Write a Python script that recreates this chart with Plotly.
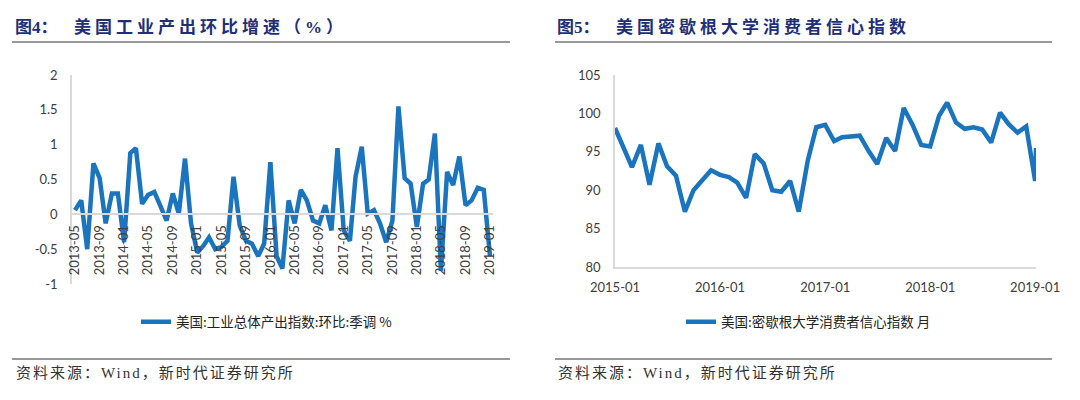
import pandas as pd
import plotly.graph_objects as go

# ---------------- data ----------------
ip_months = pd.date_range("2013-05-01", "2019-01-01", freq="MS")
ip_mom = [0.06, 0.2, -0.5, 0.73, 0.52, -0.13, 0.3, 0.3,
          -0.4, 0.88, 0.95, 0.15, 0.28, 0.32, 0.12, -0.09, 0.3, 0.01, 0.8, -0.13,
          -0.55, -0.45, -0.33, -0.5, -0.47, -0.38, 0.54, -0.16, -0.38, -0.42, -0.6, -0.42,
          0.75, -0.6, -0.78, 0.2, -0.13, 0.35, 0.2, -0.09, -0.13, 0.13, -0.23, 0.95,
          -0.23, -0.38, 0.54, 0.97, 0.01, 0.06, -0.13, -0.4, -0.09, 1.55, 0.52, 0.44,
          -0.18, 0.44, 0.5, 1.16, -0.81, 0.61, 0.42, 0.83, 0.13, 0.2, 0.38, 0.35,
          -0.6]
ip_ticks = ["2013-05", "2013-09", "2014-01", "2014-05", "2014-09", "2015-01", "2015-05",
            "2015-09", "2016-01", "2016-05", "2016-09", "2017-01", "2017-05", "2017-09",
            "2018-01", "2018-05", "2018-09", "2019-01"]
ip_yticks = [2, 1.5, 1, 0.5, 0, -0.5, -1]
ip_ytext = ["2", "1.5", "1", "0.5", "0", "-0.5", "-1"]

cs_dates = list(pd.date_range("2015-01-01", "2019-01-01", freq="MS")) + [pd.Timestamp("2019-01-04")]
cs_index = [98.1, 95.4, 93.0, 95.9, 90.7, 96.1, 93.1, 91.9, 87.2, 90.0, 91.3, 92.6,
            92.0, 91.7, 91.0, 89.0, 94.7, 93.5, 90.0, 89.8, 91.2, 87.2, 93.8, 98.2,
            98.5, 96.4, 96.9, 97.0, 97.1, 95.1, 93.4, 96.8, 95.1, 100.7, 98.5, 95.9,
            95.7, 99.7, 101.4, 98.8, 98.0, 98.2, 97.9, 96.2, 100.1, 98.6, 97.5, 98.3,
            91.2, 95.5]
cs_ticks = ["2015-01", "2016-01", "2017-01", "2018-01", "2019-01"]
cs_yticks = [80, 85, 90, 95, 100, 105]

title_left = ("图4：", "美国工业产出环比增速（%）")
title_right = ("图5：", "美国密歇根大学消费者信心指数")
legend_left = "美国:工业总体产出指数:环比:季调 %"
legend_right = "美国:密歇根大学消费者信心指数 月"
source_text = "资料来源：Wind，新时代证券研究所"

# ---------------- styling ----------------
W, H = 1080, 400
LINE = "#1B74BE"
AXIS = "#D9D9D9"
TICK_FONT = dict(family="Lato, Liberation Sans, sans-serif", size=13, color="#404040")
CJK = "Noto Sans CJK SC"
NAVY = "#202F78"

def px_x(v):
    return v / W

def px_y(v):
    return 1 - v / H

fig = go.Figure()
fig.add_trace(go.Scatter(x=ip_months, y=ip_mom, mode="lines", name=legend_left,
                         line=dict(color=LINE, width=4.5), xaxis="x", yaxis="y",
                         legend="legend"))
fig.add_trace(go.Scatter(x=cs_dates, y=cs_index, mode="lines", name=legend_right,
                         line=dict(color=LINE, width=4.5), xaxis="x2", yaxis="y2",
                         legend="legend2"))

ydom = [px_y(284), px_y(75)]
yr = [-1, 2]
zero_pos = ydom[0] + (0 - yr[0]) / (yr[1] - yr[0]) * (ydom[1] - ydom[0])

fig.update_layout(
    width=W, height=H, margin=dict(l=0, r=0, t=0, b=0, autoexpand=False),
    paper_bgcolor="white", plot_bgcolor="white",
    xaxis=dict(domain=[px_x(72), px_x(493)], type="date",
               range=["2013-04-16", "2019-01-16"], anchor="free", position=zero_pos,
               tickvals=[t + "-01" for t in ip_ticks], ticktext=ip_ticks, tickangle=-90,
               showline=True, linecolor=AXIS, linewidth=1.5, showgrid=False, zeroline=False,
               ticks="", tickfont=TICK_FONT, ticklabelstandoff=5, automargin=False),
    yaxis=dict(domain=ydom, range=yr, anchor="x", tickvals=ip_yticks, ticktext=ip_ytext,
               showline=True, linecolor=AXIS, linewidth=1.5, showgrid=False, zeroline=False,
               ticks="", tickfont=TICK_FONT, ticklabelstandoff=10, automargin=False),
    xaxis2=dict(domain=[px_x(615), px_x(1036)], type="date",
                range=["2015-01-01", "2019-01-04"], anchor="y2",
                tickvals=[t + "-01" for t in cs_ticks], ticktext=cs_ticks, tickangle=0,
                showline=True, linecolor=AXIS, linewidth=1.5, showgrid=False, zeroline=False,
                ticks="", tickfont=TICK_FONT, ticklabelstandoff=8, automargin=False),
    yaxis2=dict(domain=[px_y(267), px_y(75)], range=[80, 105], anchor="x2",
                tickvals=cs_yticks, showline=True, linecolor=AXIS, linewidth=1.5,
                showgrid=False, zeroline=False, ticks="", tickfont=TICK_FONT,
                ticklabelstandoff=10, automargin=False),
    legend=dict(x=px_x(136), y=px_y(322), xanchor="left", yanchor="middle",
                font=dict(family=CJK, size=13.5, color="#222222"),
                bgcolor="rgba(0,0,0,0)", borderwidth=0),
    legend2=dict(x=px_x(681), y=px_y(322), xanchor="left", yanchor="middle",
                 font=dict(family=CJK, size=13.5, color="#222222"),
                 bgcolor="rgba(0,0,0,0)", borderwidth=0),
    showlegend=True,
)

shapes = []
for x0, x1 in [(12, 510), (555, 1052)]:
    for yy in (42, 359):
        shapes.append(dict(type="line", xref="paper", yref="paper",
                           x0=px_x(x0), x1=px_x(x1), y0=px_y(yy), y1=px_y(yy),
                           line=dict(color="#333333", width=1.2)))
fig.update_layout(shapes=shapes)

title_font = dict(family="Liberation Serif, " + CJK, size=17, color=NAVY)
anns = []
for (fig_no, ttl), x_no, x_t in [(title_left, 13, 72), (title_right, 555, 614)]:
    anns.append(dict(text="<b>" + fig_no + "</b>", xref="paper", yref="paper",
                     x=px_x(x_no), y=px_y(27), xanchor="left", yanchor="middle",
                     showarrow=False, font=title_font))
    anns.append(dict(text='<b><span style="letter-spacing:4px">' + ttl + "</span></b>",
                     xref="paper", yref="paper", x=px_x(x_t), y=px_y(27),
                     xanchor="left", yanchor="middle", showarrow=False, font=title_font))
for x_s in (14, 556):
    anns.append(dict(text='<span style="letter-spacing:2px">' + source_text + "</span>",
                     xref="paper", yref="paper", x=px_x(x_s), y=px_y(373),
                     xanchor="left", yanchor="middle", showarrow=False,
                     font=dict(family="Liberation Serif, " + CJK, size=15, color="#333333")))
fig.update_layout(annotations=anns)

fig.write_html("out.html", config={"displayModeBar": False},
               post_script="document.body.style.margin='0';")
